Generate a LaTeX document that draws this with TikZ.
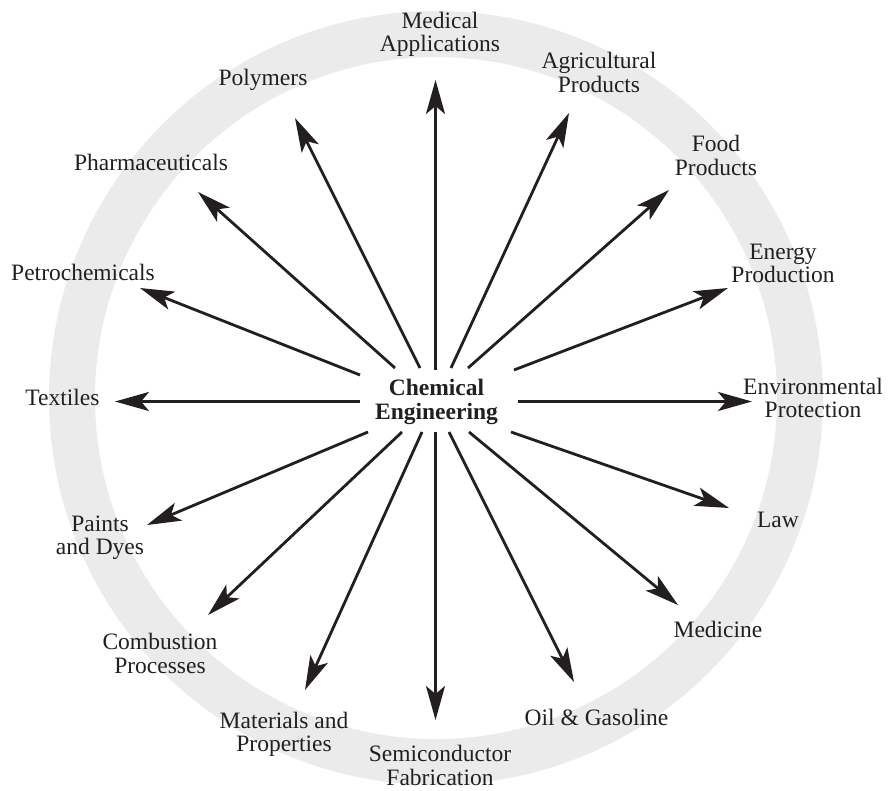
\documentclass[tikz,border=0pt]{standalone}
\usepackage{fontspec}
\setmainfont{Liberation Serif}
\usetikzlibrary{arrows.meta}
\definecolor{ink}{RGB}{35,31,32}
\definecolor{ring}{RGB}{235,235,235}
\tikzset{
  lbl/.style={text=ink, align=center, inner sep=0pt, font=\fontsize{23.5}{23.5}\selectfont},
  hub/.style={lbl, font=\fontsize{23.5}{24}\selectfont\bfseries},
  arr/.style={draw=ink, line width=2.8pt, -{Stealth[length=34pt, width=19pt, inset=8pt]}}
}
\begin{document}
\begin{tikzpicture}[x=1pt, y=-1pt]
\useasboundingbox (0,0) rectangle (888,791);
% ring
\draw[ring, line width=46pt] (436,398) circle[radius=364];
% centre
\node[hub] (chem) at (436.5,401.5) {Chemical\\Engineering};
% labels
\node[lbl] (medapp) at (440,34.6) {Medical\\Applications};
\node[lbl] (agri) at (599,72.5) {Agricultural\\Products};
\node[lbl] (food) at (716,155.5) {Food\\Products};
\node[lbl] (energy) at (783,263.5) {Energy\\Production};
\node[lbl] (env) at (813,398) {Environmental\\Protection};
\node[lbl] (law) at (778,520) {Law};
\node[lbl] (medicine) at (718,629) {Medicine};
\node[lbl] (oil) at (596.5,717) {Oil \& Gasoline};
\node[lbl] (semi) at (440,765.5) {Semiconductor\\Fabrication};
\node[lbl] (mat) at (284,734.5) {Materials and\\Properties};
\node[lbl] (comb) at (160,653.5) {Combustion\\Processes};
\node[lbl] (paint) at (100,538) {Paints\\and Dyes};
\node[lbl] (text) at (62.5,397) {Textiles};
\node[lbl] (petro) at (83,272) {Petrochemicals};
\node[lbl] (pharma) at (151,162) {Pharmaceuticals};
\node[lbl] (poly) at (263,79.5) {Polymers};
% arrows
\foreach \n/\sx/\sy/\ex/\ey in {
  a/435.5/370/435.5/80,
  b/451/368/569/113,
  c/468/368/669/190,
  d/514/370/728/288,
  e/518/401.5/752/401.5,
  f/511/432/729/508,
  g/469/432/678/605,
  h/449/432/574/682,
  i/435.5/432/435.5/720,
  j/422/432/305/690,
  k/402/432/208/615,
  l/368/432/147/525,
  m/360/401.5/115/401.5,
  n/360/375/140/288,
  o/395/368/198/192,
  p/420/368/295/118}{
  \coordinate (s\n) at (\sx,\sy);
  \coordinate (t\n) at (\ex,\ey);
  \draw[arr] (s\n) -- (t\n);
}
\end{tikzpicture}
\end{document}
